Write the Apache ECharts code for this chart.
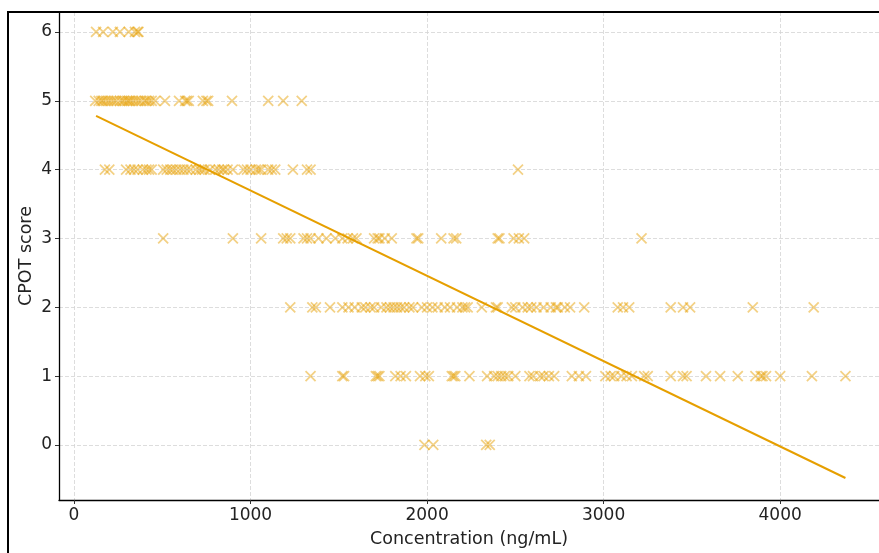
<!DOCTYPE html>
<html>
<head>
<meta charset="utf-8">
<script src="https://cdn.jsdelivr.net/npm/echarts@6/dist/echarts.min.js"></script>
<style>
  html, body { margin: 0; padding: 0; background: #fff; }
  #chart { width: 879px; height: 553px; }
</style>
</head>
<body>
<div id="chart"></div>
<script>
// concentration values (ng/mL) per CPOT score
const score6 = [125, 165, 220, 260, 310, 345, 360, 365];
const score5 = [120, 140, 155, 165, 180, 195, 210, 225, 240, 260, 275, 285, 300, 310, 320, 335, 350, 365, 380, 400, 410, 425, 440, 460, 515, 595, 630, 640, 650, 730, 750, 760, 895, 1100, 1185, 1290];
const score4 = [175, 200, 295, 320, 340, 360, 390, 410, 425, 440, 505, 525, 545, 560, 580, 600, 620, 640, 660, 690, 710, 725, 740, 770, 800, 820, 840, 850, 870, 900, 960, 980, 1000, 1030, 1045, 1060, 1100, 1120, 1140, 1240, 1320, 1340, 2515];
const score3 = [505, 900, 1060, 1185, 1205, 1225, 1300, 1320, 1340, 1385, 1430, 1480, 1520, 1550, 1580, 1600, 1700, 1720, 1730, 1760, 1800, 1940, 1950, 2080, 2150, 2165, 2400, 2410, 2490, 2520, 2550, 3215];
const score2 = [1225, 1350, 1370, 1450, 1520, 1555, 1590, 1630, 1650, 1680, 1700, 1740, 1770, 1790, 1810, 1830, 1850, 1870, 1900, 1920, 1970, 2000, 2030, 2060, 2100, 2130, 2170, 2200, 2215, 2230, 2310, 2390, 2400, 2480, 2500, 2540, 2570, 2590, 2620, 2660, 2700, 2730, 2740, 2780, 2810, 2890, 3080, 3110, 3145, 3380, 3450, 3490, 3845, 4190];
const score1 = [1340, 1520, 1530, 1710, 1720, 1730, 1820, 1850, 1880, 1960, 1990, 2010, 2140, 2150, 2160, 2240, 2340, 2380, 2400, 2420, 2440, 2460, 2500, 2580, 2600, 2640, 2660, 2690, 2720, 2820, 2860, 2900, 3010, 3040, 3060, 3100, 3130, 3160, 3230, 3250, 3380, 3450, 3470, 3580, 3660, 3760, 3860, 3890, 3900, 3920, 4000, 4180, 4370];
const score0 = [1985, 2035, 2335, 2355];

// regression line endpoints
const fitX = [125, 4370];
const fitY = [4.78, -0.48];

const xTicks = [0, 1000, 2000, 3000, 4000];
const yTicks = [0, 1, 2, 3, 4, 5, 6];

const rows = [[6, score6], [5, score5], [4, score4], [3, score3], [2, score2], [1, score1], [0, score0]];
const points = [];
rows.forEach(([s, xs]) => xs.forEach(x => points.push([x, s])));

const orange = '#E69F00';
const markColor = 'rgba(230,159,0,0.6)';
const font = 'DejaVu Sans';

const chart = echarts.init(document.getElementById('chart'));

const option = {
  backgroundColor: '#fff',
  animation: false,
  textStyle: { fontFamily: font },
  grid: { left: 59, top: 12, right: 0, bottom: 52 },
  xAxis: {
    type: 'value',
    min: -85,
    max: 4560,
    name: 'Concentration (ng/mL)',
    nameLocation: 'middle',
    nameGap: 30,
    nameTextStyle: { fontSize: 17.5, color: '#222', fontFamily: font },
    axisLine: { show: true, onZero: false, lineStyle: { color: '#000', width: 1.3 } },
    axisTick: { show: true, length: 4, lineStyle: { color: '#333' }, customValues: xTicks },
    axisLabel: { fontSize: 17, color: '#222', margin: 7, customValues: xTicks, formatter: v => String(v) },
    splitLine: { show: true, lineStyle: { color: '#d4d4d4', type: [4, 2], width: 0.8 } }
  },
  yAxis: {
    type: 'value',
    min: -0.8,
    max: 6.29,
    name: 'CPOT score',
    nameLocation: 'middle',
    nameGap: 24,
    nameMoveOverlap: false,
    nameRotate: 90,
    nameTextStyle: { fontSize: 17.5, color: '#222', fontFamily: font },
    axisLine: { show: true, onZero: false, lineStyle: { color: '#000', width: 1.3 } },
    axisTick: { show: true, length: 4, lineStyle: { color: '#333' }, customValues: yTicks },
    axisLabel: { fontSize: 17, color: '#222', margin: 7, customValues: yTicks },
    splitLine: { show: true, lineStyle: { color: '#d4d4d4', type: [4, 2], width: 0.8 } }
  },
  graphic: [{
    type: 'rect',
    shape: { x: 8, y: 12, width: 1000, height: 700 },
    style: { fill: 'none', stroke: '#000', lineWidth: 2 },
    silent: true,
    z: 100
  }],
  series: [
    {
      type: 'scatter',
      data: points,
      symbol: 'path://M0,0L10,10M10,0L0,10',
      symbolSize: 10,
      itemStyle: { color: 'rgba(0,0,0,0)', borderColor: markColor, borderWidth: 1.8 },
      z: 2
    },
    {
      type: 'line',
      data: fitX.map((x, i) => [x, fitY[i]]),
      symbol: 'none',
      lineStyle: { color: orange, width: 2 },
      z: 3
    }
  ]
};

chart.setOption(option);
</script>
</body>
</html>
